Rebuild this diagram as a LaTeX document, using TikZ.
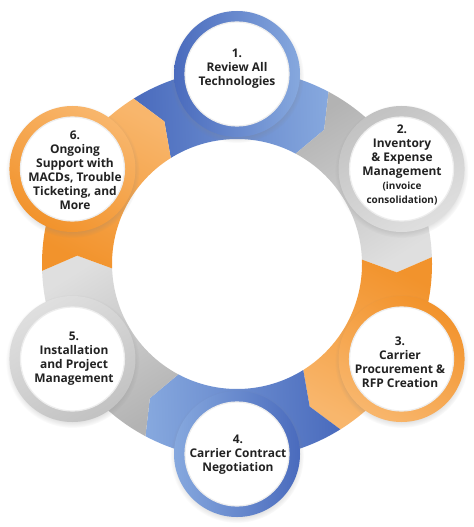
\documentclass[tikz,border=0pt]{standalone}
\usepackage{fontspec}
\setmainfont{Open Sans}
\usetikzlibrary{shadows}
\definecolor{bluedk}{HTML}{4A6BBD}
\definecolor{bluelt}{HTML}{86A8DE}
\definecolor{orgdk}{HTML}{F2932C}
\definecolor{orglt}{HTML}{F8B66C}
\definecolor{graydk}{HTML}{B3B3B3}
\definecolor{graylt}{HTML}{DFDFDF}
\definecolor{txt}{HTML}{222222}
\begin{document}
\begin{tikzpicture}[x=1bp,y=1bp,
  lbl/.style={font=\bfseries\fontsize{12}{14}\selectfont, align=center, text=txt, inner sep=0pt},
  ringnode/.style={circle, minimum size=126bp, inner sep=0pt,
    circular drop shadow={shadow xshift=0bp, shadow yshift=-2bp, shadow scale=1.06, opacity=.35}},
  hole/.style={fill=white, draw=black!7, line width=1.2bp}]
\useasboundingbox (0,0) rectangle (474,-527);
\fill[white] (0,0) rectangle (474,-527);
\begin{scope}[shift={(237,-264)}]
  \foreach \t/\d/\l in {90/bluedk/bluelt, 30/graydk/graylt, -30/orgdk/orglt, -90/bluedk/bluelt, -150/graydk/graylt, 150/orgdk/orglt} {
    \pgfmathsetmacro\ba{\t+32}
    \pgfmathsetmacro\bb{\t-28}
    \pgfmathsetmacro\va{\t-33}
    \pgfmathsetmacro\vb{\t+27}
    \pgfmathsetmacro\sa{\t+2}
    \shade[top color=\d, bottom color=\l, shading angle=\sa]
      (\ba:195) arc[start angle=\ba, end angle=\bb, radius=195]
      -- (\va:160) -- (\bb:125)
      arc[start angle=\bb, end angle=\ba, radius=125]
      -- (\vb:160) -- cycle;
  }
  \node[ringnode, top color=bluedk, bottom color=bluelt, shading angle=90] (c1) at (90:190) {};
  \node[ringnode, top color=graydk!80, bottom color=graylt, shading angle=30] (c2) at (30:190) {};
  \node[ringnode, top color=orgdk, bottom color=orglt, shading angle=-30] (c3) at (-30:190) {};
  \node[ringnode, top color=bluedk, bottom color=bluelt, shading angle=-90] (c4) at (-90:190) {};
  \node[ringnode, top color=graydk!80, bottom color=graylt, shading angle=-150] (c5) at (-150:190) {};
  \node[ringnode, top color=orgdk, bottom color=orglt, shading angle=150] (c6) at (150:190) {};
  \foreach \c in {c1,c2,c3,c4,c5,c6} { \path[hole] (\c.center) circle (52); }
\end{scope}
\node[lbl] (t1) at (237,-69) {1.\\Review All\\Technologies};
\node[lbl] (t2) at (402,-165) {2.\\Inventory\\\& Expense\\Management\\{\fontsize{10}{13}\selectfont (invoice}\\{\fontsize{10}{13}\selectfont consolidation)}};
\node[lbl] (t3) at (400,-362) {3.\\Carrier\\Procurement \&\\RFP Creation};
\node[lbl] (t4) at (238,-455) {4.\\Carrier Contract\\Negotiation};
\node[lbl] (t5) at (74,-359) {5.\\Installation\\and Project\\Management};
\node[lbl] (t6) at (75,-170) {6.\\Ongoing\\Support with\\MACDs, Trouble\\Ticketing, and\\More};
\end{tikzpicture}
\end{document}
